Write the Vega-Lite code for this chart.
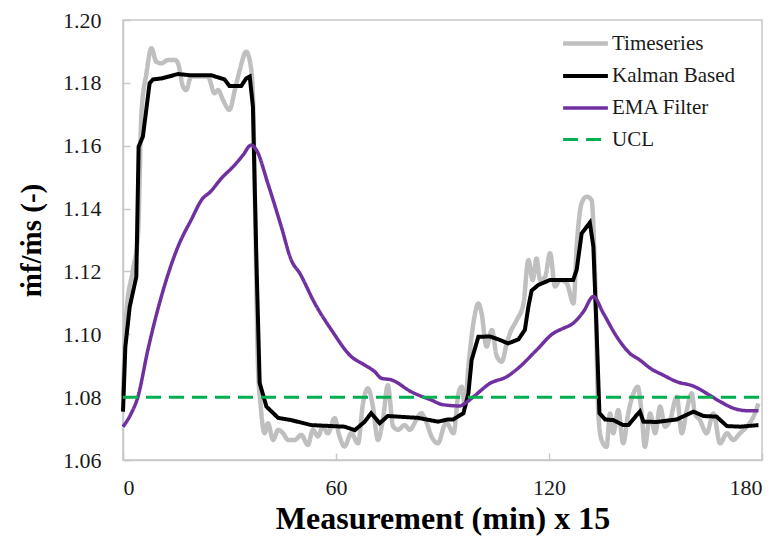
{
  "$schema": "https://vega.github.io/schema/vega-lite/v6.json",
  "autosize": {"type": "none"},
  "padding": {"left": 123, "top": 20, "right": 20, "bottom": 82},
  "width": 639,
  "height": 440,
  "background": "white",
  "config": {
    "font": "Liberation Serif",
    "style": {"guide-label": {"font": "Liberation Serif", "fontWeight": "normal"}},
    "view": {"stroke": "#c8c8c8", "strokeWidth": 1.5},
    "axis": {
      "grid": false,
      "domainColor": "#c8c8c8",
      "domainWidth": 1.5,
      "tickColor": "#c8c8c8",
      "tickWidth": 1.5,
      "tickSize": -7,
      "labelColor": "#1a1a1a",
      "titleFontWeight": "bold",
      "titleColor": "#000000"
    },
    "legend": {
      "labelColor": "#1a1a1a"
    }
  },
  "data": {
    "values": [
      {"series": "Timeseries", "x": 0, "y": 1.0802},
      {"series": "Timeseries", "x": 0.94, "y": 1.1067},
      {"series": "Timeseries", "x": 2.8, "y": 1.1205},
      {"series": "Timeseries", "x": 4.2, "y": 1.1311},
      {"series": "Timeseries", "x": 5.2, "y": 1.1703},
      {"series": "Timeseries", "x": 6.6, "y": 1.183},
      {"series": "Timeseries", "x": 8.0, "y": 1.191},
      {"series": "Timeseries", "x": 9.4, "y": 1.1867},
      {"series": "Timeseries", "x": 10.8, "y": 1.1862},
      {"series": "Timeseries", "x": 12.7, "y": 1.1873},
      {"series": "Timeseries", "x": 14.6, "y": 1.1873},
      {"series": "Timeseries", "x": 15.5, "y": 1.1862},
      {"series": "Timeseries", "x": 16.9, "y": 1.1788},
      {"series": "Timeseries", "x": 17.8, "y": 1.1777},
      {"series": "Timeseries", "x": 19.2, "y": 1.182},
      {"series": "Timeseries", "x": 21.1, "y": 1.182},
      {"series": "Timeseries", "x": 23.9, "y": 1.182},
      {"series": "Timeseries", "x": 25.8, "y": 1.1767},
      {"series": "Timeseries", "x": 26.8, "y": 1.1777},
      {"series": "Timeseries", "x": 28.2, "y": 1.1745},
      {"series": "Timeseries", "x": 30.0, "y": 1.1714},
      {"series": "Timeseries", "x": 31.5, "y": 1.1777},
      {"series": "Timeseries", "x": 32.9, "y": 1.1841},
      {"series": "Timeseries", "x": 34.7, "y": 1.1899},
      {"series": "Timeseries", "x": 36.0, "y": 1.1852},
      {"series": "Timeseries", "x": 36.6, "y": 1.1756},
      {"series": "Timeseries", "x": 37.3, "y": 1.1332},
      {"series": "Timeseries", "x": 38.0, "y": 1.0908},
      {"series": "Timeseries", "x": 38.8, "y": 1.077},
      {"series": "Timeseries", "x": 39.9, "y": 1.0685},
      {"series": "Timeseries", "x": 40.8, "y": 1.0717},
      {"series": "Timeseries", "x": 42.3, "y": 1.0664},
      {"series": "Timeseries", "x": 43.7, "y": 1.0696},
      {"series": "Timeseries", "x": 45.1, "y": 1.0685},
      {"series": "Timeseries", "x": 46.5, "y": 1.0664},
      {"series": "Timeseries", "x": 48.4, "y": 1.0664},
      {"series": "Timeseries", "x": 50.2, "y": 1.068},
      {"series": "Timeseries", "x": 52.1, "y": 1.0648},
      {"series": "Timeseries", "x": 53.5, "y": 1.0696},
      {"series": "Timeseries", "x": 54.9, "y": 1.0675},
      {"series": "Timeseries", "x": 56.3, "y": 1.0707},
      {"series": "Timeseries", "x": 57.7, "y": 1.0685},
      {"series": "Timeseries", "x": 59.6, "y": 1.0733},
      {"series": "Timeseries", "x": 61.0, "y": 1.0675},
      {"series": "Timeseries", "x": 62.4, "y": 1.0643},
      {"series": "Timeseries", "x": 64.3, "y": 1.0685},
      {"series": "Timeseries", "x": 66.2, "y": 1.0653},
      {"series": "Timeseries", "x": 67.6, "y": 1.078},
      {"series": "Timeseries", "x": 69.0, "y": 1.0828},
      {"series": "Timeseries", "x": 70.4, "y": 1.077},
      {"series": "Timeseries", "x": 71.8, "y": 1.0664},
      {"series": "Timeseries", "x": 73.2, "y": 1.0727},
      {"series": "Timeseries", "x": 74.6, "y": 1.0838},
      {"series": "Timeseries", "x": 76.1, "y": 1.0707},
      {"series": "Timeseries", "x": 77.5, "y": 1.0696},
      {"series": "Timeseries", "x": 79.3, "y": 1.0711},
      {"series": "Timeseries", "x": 80.8, "y": 1.0696},
      {"series": "Timeseries", "x": 82.6, "y": 1.0727},
      {"series": "Timeseries", "x": 84.0, "y": 1.0749},
      {"series": "Timeseries", "x": 85.4, "y": 1.0722},
      {"series": "Timeseries", "x": 86.9, "y": 1.0675},
      {"series": "Timeseries", "x": 88.7, "y": 1.0653},
      {"series": "Timeseries", "x": 90.6, "y": 1.0711},
      {"series": "Timeseries", "x": 91.2, "y": 1.0717},
      {"series": "Timeseries", "x": 93.1, "y": 1.0685},
      {"series": "Timeseries", "x": 94.5, "y": 1.0812},
      {"series": "Timeseries", "x": 95.4, "y": 1.0833},
      {"series": "Timeseries", "x": 96.3, "y": 1.077},
      {"series": "Timeseries", "x": 97.3, "y": 1.0897},
      {"series": "Timeseries", "x": 98.7, "y": 1.1035},
      {"series": "Timeseries", "x": 100.1, "y": 1.1098},
      {"series": "Timeseries", "x": 101.0, "y": 1.1067},
      {"series": "Timeseries", "x": 102.4, "y": 1.0961},
      {"series": "Timeseries", "x": 103.9, "y": 1.1014},
      {"series": "Timeseries", "x": 105.3, "y": 1.093},
      {"series": "Timeseries", "x": 106.7, "y": 1.0913},
      {"series": "Timeseries", "x": 108.1, "y": 1.0971},
      {"series": "Timeseries", "x": 109.0, "y": 1.1003},
      {"series": "Timeseries", "x": 110.9, "y": 1.1045},
      {"series": "Timeseries", "x": 112.8, "y": 1.1098},
      {"series": "Timeseries", "x": 114.2, "y": 1.1236},
      {"series": "Timeseries", "x": 115.4, "y": 1.1173},
      {"series": "Timeseries", "x": 116.5, "y": 1.1241},
      {"series": "Timeseries", "x": 117.5, "y": 1.1173},
      {"series": "Timeseries", "x": 118.9, "y": 1.1183},
      {"series": "Timeseries", "x": 120.3, "y": 1.1258},
      {"series": "Timeseries", "x": 121.7, "y": 1.1152},
      {"series": "Timeseries", "x": 123.1, "y": 1.1173},
      {"series": "Timeseries", "x": 125.0, "y": 1.1162},
      {"series": "Timeseries", "x": 126.9, "y": 1.1098},
      {"series": "Timeseries", "x": 127.8, "y": 1.1279},
      {"series": "Timeseries", "x": 129.2, "y": 1.1417},
      {"series": "Timeseries", "x": 130.6, "y": 1.1438},
      {"series": "Timeseries", "x": 132.0, "y": 1.1427},
      {"series": "Timeseries", "x": 133.0, "y": 1.1173},
      {"series": "Timeseries", "x": 133.9, "y": 1.0748},
      {"series": "Timeseries", "x": 134.8, "y": 1.0664},
      {"series": "Timeseries", "x": 136.2, "y": 1.0642},
      {"series": "Timeseries", "x": 137.2, "y": 1.0748},
      {"series": "Timeseries", "x": 138.1, "y": 1.0685},
      {"series": "Timeseries", "x": 139.5, "y": 1.0759},
      {"series": "Timeseries", "x": 140.9, "y": 1.0653},
      {"series": "Timeseries", "x": 142.3, "y": 1.0748},
      {"series": "Timeseries", "x": 143.8, "y": 1.0812},
      {"series": "Timeseries", "x": 145.0, "y": 1.0833},
      {"series": "Timeseries", "x": 146.1, "y": 1.0748},
      {"series": "Timeseries", "x": 147.0, "y": 1.0642},
      {"series": "Timeseries", "x": 148.5, "y": 1.0748},
      {"series": "Timeseries", "x": 149.9, "y": 1.0685},
      {"series": "Timeseries", "x": 151.3, "y": 1.077},
      {"series": "Timeseries", "x": 152.7, "y": 1.0706},
      {"series": "Timeseries", "x": 154.1, "y": 1.0727},
      {"series": "Timeseries", "x": 156.0, "y": 1.0801},
      {"series": "Timeseries", "x": 157.4, "y": 1.0685},
      {"series": "Timeseries", "x": 158.8, "y": 1.0759},
      {"series": "Timeseries", "x": 160.2, "y": 1.0812},
      {"series": "Timeseries", "x": 161.1, "y": 1.0748},
      {"series": "Timeseries", "x": 162.5, "y": 1.0727},
      {"series": "Timeseries", "x": 164.4, "y": 1.0685},
      {"series": "Timeseries", "x": 166.3, "y": 1.0748},
      {"series": "Timeseries", "x": 168.2, "y": 1.0653},
      {"series": "Timeseries", "x": 170.1, "y": 1.0685},
      {"series": "Timeseries", "x": 171.9, "y": 1.0664},
      {"series": "Timeseries", "x": 173.8, "y": 1.0685},
      {"series": "Timeseries", "x": 175.7, "y": 1.0706},
      {"series": "Timeseries", "x": 177.6, "y": 1.0738},
      {"series": "Timeseries", "x": 179.0, "y": 1.078},

      {"series": "Kalman Based", "x": 0, "y": 1.0754},
      {"series": "Kalman Based", "x": 0.66, "y": 1.096},
      {"series": "Kalman Based", "x": 1.9, "y": 1.1088},
      {"series": "Kalman Based", "x": 3.75, "y": 1.1183},
      {"series": "Kalman Based", "x": 4.4, "y": 1.1597},
      {"series": "Kalman Based", "x": 5.6, "y": 1.1629},
      {"series": "Kalman Based", "x": 7.5, "y": 1.1799},
      {"series": "Kalman Based", "x": 8.45, "y": 1.1811},
      {"series": "Kalman Based", "x": 10.8, "y": 1.1814},
      {"series": "Kalman Based", "x": 15.5, "y": 1.1828},
      {"series": "Kalman Based", "x": 19.2, "y": 1.1824},
      {"series": "Kalman Based", "x": 24.9, "y": 1.1824},
      {"series": "Kalman Based", "x": 28.6, "y": 1.1811},
      {"series": "Kalman Based", "x": 30.0, "y": 1.179},
      {"series": "Kalman Based", "x": 33.3, "y": 1.179},
      {"series": "Kalman Based", "x": 34.7, "y": 1.1814},
      {"series": "Kalman Based", "x": 35.7, "y": 1.182},
      {"series": "Kalman Based", "x": 36.6, "y": 1.1724},
      {"series": "Kalman Based", "x": 37.6, "y": 1.1227},
      {"series": "Kalman Based", "x": 38.5, "y": 1.0845},
      {"series": "Kalman Based", "x": 40.4, "y": 1.077},
      {"series": "Kalman Based", "x": 43.7, "y": 1.0734},
      {"series": "Kalman Based", "x": 47.4, "y": 1.0727},
      {"series": "Kalman Based", "x": 53.0, "y": 1.0711},
      {"series": "Kalman Based", "x": 62.4, "y": 1.0706},
      {"series": "Kalman Based", "x": 65.3, "y": 1.0695},
      {"series": "Kalman Based", "x": 68.1, "y": 1.0722},
      {"series": "Kalman Based", "x": 69.9, "y": 1.0749},
      {"series": "Kalman Based", "x": 72.3, "y": 1.0717},
      {"series": "Kalman Based", "x": 74.6, "y": 1.074},
      {"series": "Kalman Based", "x": 83.1, "y": 1.0734},
      {"series": "Kalman Based", "x": 88.7, "y": 1.0722},
      {"series": "Kalman Based", "x": 91.5, "y": 1.0729},
      {"series": "Kalman Based", "x": 93.0, "y": 1.0729},
      {"series": "Kalman Based", "x": 95.9, "y": 1.0749},
      {"series": "Kalman Based", "x": 97.3, "y": 1.0812},
      {"series": "Kalman Based", "x": 98.2, "y": 1.0918},
      {"series": "Kalman Based", "x": 100.1, "y": 1.0992},
      {"series": "Kalman Based", "x": 103.4, "y": 1.0993},
      {"series": "Kalman Based", "x": 105.7, "y": 1.0984},
      {"series": "Kalman Based", "x": 108.5, "y": 1.0971},
      {"series": "Kalman Based", "x": 111.4, "y": 1.0984},
      {"series": "Kalman Based", "x": 113.2, "y": 1.1014},
      {"series": "Kalman Based", "x": 114.2, "y": 1.1088},
      {"series": "Kalman Based", "x": 115.1, "y": 1.1139},
      {"series": "Kalman Based", "x": 117.0, "y": 1.1157},
      {"series": "Kalman Based", "x": 120.3, "y": 1.1173},
      {"series": "Kalman Based", "x": 126.8, "y": 1.1173},
      {"series": "Kalman Based", "x": 127.8, "y": 1.1205},
      {"series": "Kalman Based", "x": 129.2, "y": 1.1321},
      {"series": "Kalman Based", "x": 131.5, "y": 1.1355},
      {"series": "Kalman Based", "x": 132.5, "y": 1.1279},
      {"series": "Kalman Based", "x": 133.4, "y": 1.1014},
      {"series": "Kalman Based", "x": 134.2, "y": 1.0749},
      {"series": "Kalman Based", "x": 135.8, "y": 1.0729},
      {"series": "Kalman Based", "x": 138.1, "y": 1.0727},
      {"series": "Kalman Based", "x": 140.9, "y": 1.0711},
      {"series": "Kalman Based", "x": 142.4, "y": 1.0711},
      {"series": "Kalman Based", "x": 144.7, "y": 1.0743},
      {"series": "Kalman Based", "x": 145.6, "y": 1.0754},
      {"series": "Kalman Based", "x": 146.6, "y": 1.0722},
      {"series": "Kalman Based", "x": 150.3, "y": 1.0721},
      {"series": "Kalman Based", "x": 156.0, "y": 1.0729},
      {"series": "Kalman Based", "x": 160.7, "y": 1.0754},
      {"series": "Kalman Based", "x": 163.5, "y": 1.074},
      {"series": "Kalman Based", "x": 167.2, "y": 1.0738},
      {"series": "Kalman Based", "x": 170.1, "y": 1.0708},
      {"series": "Kalman Based", "x": 173.8, "y": 1.0706},
      {"series": "Kalman Based", "x": 179.0, "y": 1.0711},

      {"series": "EMA Filter", "x": 0, "y": 1.0706},
      {"series": "EMA Filter", "x": 2.35, "y": 1.0749},
      {"series": "EMA Filter", "x": 4.2, "y": 1.0801},
      {"series": "EMA Filter", "x": 7.0, "y": 1.095},
      {"series": "EMA Filter", "x": 10.8, "y": 1.112},
      {"series": "EMA Filter", "x": 15.5, "y": 1.1279},
      {"series": "EMA Filter", "x": 19.2, "y": 1.1364},
      {"series": "EMA Filter", "x": 22.5, "y": 1.1433},
      {"series": "EMA Filter", "x": 24.4, "y": 1.1451},
      {"series": "EMA Filter", "x": 27.7, "y": 1.1496},
      {"series": "EMA Filter", "x": 31.5, "y": 1.1539},
      {"series": "EMA Filter", "x": 33.8, "y": 1.157},
      {"series": "EMA Filter", "x": 36.1, "y": 1.1602},
      {"series": "EMA Filter", "x": 37.6, "y": 1.1586},
      {"series": "EMA Filter", "x": 40.8, "y": 1.148},
      {"series": "EMA Filter", "x": 44.6, "y": 1.1342},
      {"series": "EMA Filter", "x": 47.4, "y": 1.1236},
      {"series": "EMA Filter", "x": 49.8, "y": 1.1194},
      {"series": "EMA Filter", "x": 54.0, "y": 1.1099},
      {"series": "EMA Filter", "x": 58.7, "y": 1.1014},
      {"series": "EMA Filter", "x": 64.3, "y": 1.0929},
      {"series": "EMA Filter", "x": 68.1, "y": 1.0902},
      {"series": "EMA Filter", "x": 70.9, "y": 1.0881},
      {"series": "EMA Filter", "x": 72.8, "y": 1.086},
      {"series": "EMA Filter", "x": 75.6, "y": 1.0855},
      {"series": "EMA Filter", "x": 81.2, "y": 1.0817},
      {"series": "EMA Filter", "x": 86.8, "y": 1.0791},
      {"series": "EMA Filter", "x": 90.1, "y": 1.0776},
      {"series": "EMA Filter", "x": 94.9, "y": 1.0772},
      {"series": "EMA Filter", "x": 96.3, "y": 1.078},
      {"series": "EMA Filter", "x": 98.7, "y": 1.0801},
      {"series": "EMA Filter", "x": 103.4, "y": 1.0844},
      {"series": "EMA Filter", "x": 108.1, "y": 1.0865},
      {"series": "EMA Filter", "x": 111.8, "y": 1.0897},
      {"series": "EMA Filter", "x": 116.5, "y": 1.095},
      {"series": "EMA Filter", "x": 121.2, "y": 1.1003},
      {"series": "EMA Filter", "x": 124.0, "y": 1.1019},
      {"series": "EMA Filter", "x": 126.8, "y": 1.1035},
      {"series": "EMA Filter", "x": 129.7, "y": 1.1072},
      {"series": "EMA Filter", "x": 132.5, "y": 1.112},
      {"series": "EMA Filter", "x": 135.3, "y": 1.1067},
      {"series": "EMA Filter", "x": 139.1, "y": 1.0992},
      {"series": "EMA Filter", "x": 142.8, "y": 1.0939},
      {"series": "EMA Filter", "x": 145.6, "y": 1.0918},
      {"series": "EMA Filter", "x": 148.5, "y": 1.0892},
      {"series": "EMA Filter", "x": 152.2, "y": 1.087},
      {"series": "EMA Filter", "x": 156.0, "y": 1.0849},
      {"series": "EMA Filter", "x": 160.7, "y": 1.0835},
      {"series": "EMA Filter", "x": 164.4, "y": 1.0812},
      {"series": "EMA Filter", "x": 168.2, "y": 1.0786},
      {"series": "EMA Filter", "x": 171.9, "y": 1.0765},
      {"series": "EMA Filter", "x": 175.7, "y": 1.0757},
      {"series": "EMA Filter", "x": 179.0, "y": 1.0757},

      {"series": "UCL", "x": 0, "y": 1.08},
      {"series": "UCL", "x": 180, "y": 1.08}
    ]
  },
  "encoding": {
    "x": {
      "field": "x", "type": "quantitative",
      "scale": {"domain": [0, 180], "nice": false, "zero": false},
      "axis": {"values": [0, 60, 120, 180], "title": "Measurement (min) x 15", "titleFontSize": 32, "titleFont": "Liberation Serif", "titlePadding": 5, "labelFont": "Liberation Serif", "labelFontSize": 22, "labelPadding": 24}
    },
    "y": {
      "field": "y", "type": "quantitative",
      "scale": {"domain": [1.06, 1.2], "nice": false, "zero": false},
      "axis": {"values": [1.06, 1.08, 1.1, 1.12, 1.14, 1.16, 1.18, 1.2], "format": ".2f", "title": "ṁf/ṁs (-)", "titleFont": "Liberation Serif", "titleFontSize": 29, "titlePadding": 16, "labelFont": "Liberation Serif", "labelFontSize": 22, "labelPadding": 29}
    },
    "color": {
      "field": "series", "type": "nominal",
      "scale": {"domain": ["Timeseries", "Kalman Based", "EMA Filter", "UCL"], "range": ["#bfbfbf", "#000000", "#7030a0", "#00b050"]},
      "legend": {
        "title": null, "orient": "none", "legendX": 440, "legendY": 1,
        "symbolType": "M-1.12,0H1.12", "symbolSize": 1600, "labelOffset": 4, "rowPadding": -2,
        "labelFont": "Liberation Serif", "labelFontSize": 21
      }
    },
    "strokeDash": {
      "field": "series", "type": "nominal",
      "scale": {"domain": ["Timeseries", "Kalman Based", "EMA Filter", "UCL"], "range": [[1, 0], [1, 0], [1, 0], [15, 8]]},
      "legend": {
        "title": null, "orient": "none", "legendX": 440, "legendY": 1,
        "symbolType": "M-1.12,0H1.12", "symbolSize": 1600, "labelOffset": 4, "rowPadding": -2,
        "labelFont": "Liberation Serif", "labelFontSize": 21
      }
    },
    "strokeWidth": {
      "field": "series", "type": "nominal",
      "scale": {"domain": ["Timeseries", "Kalman Based", "EMA Filter", "UCL"], "range": [4.5, 3, 3, 3.5]},
      "legend": {
        "title": null, "orient": "none", "legendX": 440, "legendY": 1,
        "symbolType": "M-1.12,0H1.12", "symbolSize": 1600, "labelOffset": 4, "rowPadding": -2,
        "labelFont": "Liberation Serif", "labelFontSize": 21
      }
    },
    "order": {"field": "x", "type": "quantitative"}
  },
  "layer": [
    {"transform": [{"filter": "datum.series === 'Timeseries'"}], "mark": {"type": "line", "interpolate": "monotone"}},
    {"transform": [{"filter": "datum.series === 'Kalman Based'"}], "mark": {"type": "line", "interpolate": "linear"}},
    {"transform": [{"filter": "datum.series === 'EMA Filter'"}], "mark": {"type": "line", "interpolate": "monotone"}},
    {"transform": [{"filter": "datum.series === 'UCL'"}], "mark": {"type": "line"}}
  ]
}
